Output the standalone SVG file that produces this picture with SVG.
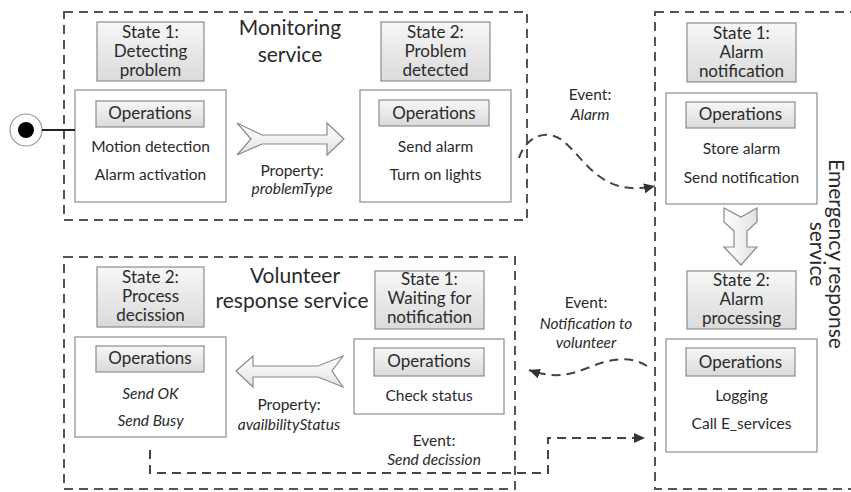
<svg xmlns="http://www.w3.org/2000/svg" width="851" height="492" viewBox="0 0 851 492">
  <defs>
    <linearGradient id="boxFill" x1="0" y1="0" x2="0" y2="1">
      <stop offset="0" stop-color="#f7f7f7"/>
      <stop offset="1" stop-color="#dadada"/>
    </linearGradient>
    <linearGradient id="arrowFill" x1="0" y1="0" x2="0" y2="1">
      <stop offset="0" stop-color="#ffffff"/>
      <stop offset="1" stop-color="#e2e2e2"/>
    </linearGradient>
    <linearGradient id="arrowFillH" x1="0" y1="0" x2="1" y2="0">
      <stop offset="0" stop-color="#ffffff"/>
      <stop offset="1" stop-color="#e2e2e2"/>
    </linearGradient>
    <marker id="head" markerUnits="userSpaceOnUse" markerWidth="13" markerHeight="11" refX="11" refY="5" orient="auto">
      <path d="M0,0 L11,5 L0,10 z" fill="#333"/>
    </marker>
  </defs>
  <style>
    text { font-family: Lato, "Open Sans", sans-serif; fill: #2a2a2a; text-anchor: middle; }
    .st { font-size: 17px; }
    .it { font-size: 15.5px; }
    .ev { font-size: 15.5px; }
    .em { font-style: italic; }
    .title { font-size: 21px; }
    .frame { fill: none; stroke: #555; stroke-width: 2; stroke-dasharray: 9 6; }
    .state { fill: url(#boxFill); stroke: #8c8c8c; stroke-width: 1.2; }
    .ops { fill: #fff; stroke: #8c8c8c; stroke-width: 1.2; }
    .lbl { fill: url(#boxFill); stroke: #8c8c8c; stroke-width: 1.2; }
    .conn { fill: none; stroke: #444; stroke-width: 2; stroke-dasharray: 9 6; }
    .block { stroke: #8a8a8a; stroke-width: 1.2; stroke-linejoin: miter; }
  </style>

  <!-- service frames -->
  <g id="monitoring-service">
    <rect class="frame" x="64" y="12" width="463" height="208"/>
    <text class="title" x="290" y="35">Monitoring</text>
    <text class="title" x="290" y="62">service</text>
  </g>
  <g id="emergency-response-service">
    <rect class="frame" x="655" y="12" width="230" height="477"/>
    <text class="title" transform="translate(829,254) rotate(90)">Emergency response</text>
    <text class="title" transform="translate(810,254) rotate(90)">service</text>
  </g>
  <g id="volunteer-response-service">
    <rect class="frame" x="64" y="257" width="451" height="232"/>
    <text class="title" x="295" y="283">Volunteer</text>
    <text class="title" x="292" y="308">response service</text>
  </g>

  <!-- initial pseudo-state -->
  <g id="start">
    <circle cx="26" cy="130" r="16" fill="#fff" stroke="#999" stroke-width="1.2"/>
    <circle cx="26" cy="130" r="8" fill="#000"/>
  </g>

  <!-- Monitoring service states -->
  <g id="m-detecting-problem">
    <rect class="state" x="97" y="22" width="107" height="59"/>
    <text class="st" x="150.5" y="37.5">State 1:</text>
    <text class="st" x="150.5" y="56.5">Detecting</text>
    <text class="st" x="150.5" y="75.5">problem</text>
    <rect class="ops" x="75" y="90" width="151" height="112"/>
    <rect class="lbl" x="96" y="101" width="108" height="26"/>
    <text class="st" x="150" y="119">Operations</text>
    <text class="it" x="150.5" y="152">Motion detection</text>
    <text class="it" x="150.5" y="180">Alarm activation</text>
  </g>
  <g id="m-problem-detected">
    <rect class="state" x="381" y="22" width="109" height="59"/>
    <text class="st" x="435.5" y="37.5">State 2:</text>
    <text class="st" x="435.5" y="56.5">Problem</text>
    <text class="st" x="435.5" y="75.5">detected</text>
    <rect class="ops" x="360" y="90" width="151" height="112"/>
    <rect class="lbl" x="379" y="100" width="110" height="26"/>
    <text class="st" x="434" y="118.5">Operations</text>
    <text class="it" x="435.5" y="152">Send alarm</text>
    <text class="it" x="435.5" y="180">Turn on lights</text>
  </g>

  <!-- Emergency response service states -->
  <g id="e-alarm-notification">
    <rect class="state" x="687" y="23" width="109" height="59"/>
    <text class="st" x="741.5" y="39">State 1:</text>
    <text class="st" x="741.5" y="58">Alarm</text>
    <text class="st" x="741.5" y="77">notification</text>
    <rect class="ops" x="666" y="93" width="151" height="111"/>
    <rect class="lbl" x="686" y="102" width="109" height="26"/>
    <text class="st" x="740.5" y="120">Operations</text>
    <text class="it" x="741.5" y="154">Store alarm</text>
    <text class="it" x="741.5" y="182.5">Send notification</text>
  </g>
  <g id="e-alarm-processing">
    <rect class="state" x="687" y="271" width="109" height="58"/>
    <text class="st" x="741.5" y="286">State 2:</text>
    <text class="st" x="741.5" y="305">Alarm</text>
    <text class="st" x="741.5" y="324">processing</text>
    <rect class="ops" x="666" y="339" width="151" height="113"/>
    <rect class="lbl" x="686" y="348" width="109" height="28"/>
    <text class="st" x="740.5" y="367.5">Operations</text>
    <text class="it" x="741.5" y="400.5">Logging</text>
    <text class="it" x="741.5" y="429">Call E_services</text>
  </g>

  <!-- Volunteer response service states -->
  <g id="v-waiting-for-notification">
    <rect class="state" x="375" y="271" width="109" height="58"/>
    <text class="st" x="429.5" y="285">State 1:</text>
    <text class="st" x="429.5" y="304">Waiting for</text>
    <text class="st" x="429.5" y="323">notification</text>
    <rect class="ops" x="354" y="339" width="150" height="75"/>
    <rect class="lbl" x="374" y="348" width="110" height="28"/>
    <text class="st" x="429" y="367">Operations</text>
    <text class="it" x="429" y="400.5">Check status</text>
  </g>
  <g id="v-process-decission">
    <rect class="state" x="97" y="267" width="107" height="60"/>
    <text class="st" x="150.5" y="283">State 2:</text>
    <text class="st" x="150.5" y="302">Process</text>
    <text class="st" x="150.5" y="321">decission</text>
    <rect class="ops" x="75" y="337" width="151" height="100"/>
    <rect class="lbl" x="96" y="346" width="108" height="26"/>
    <text class="st" x="150" y="363.5">Operations</text>
    <text class="it em" x="150.5" y="398.5">Send OK</text>
    <text class="it em" x="150.5" y="426">Send Busy</text>
  </g>

  <!-- transitions and events -->
  <g id="connectors">
    <line x1="42" y1="130" x2="75" y2="130" stroke="#222" stroke-width="2"/>

    <polygon class="block" fill="url(#arrowFill)" points="237,123 262,135 327,135 327,123 344,139 327,155 327,144 262,144 237,155 251,139"/>
    <text class="ev" x="292" y="176">Property:</text>
    <text class="ev em" x="292" y="194">problemType</text>

    <polygon class="block" fill="url(#arrowFillH)" points="724,208 741,217 757,208 757,222 747,231 747,247 757,247 741,265 724,247 734,247 734,231 724,222"/>

    <polygon class="block" fill="url(#arrowFill)" points="236,371 253,356 253,366 318,366 343,356 332,371 343,387 318,377 253,377 253,387"/>
    <text class="ev" x="289" y="410">Property:</text>
    <text class="ev em" x="289" y="430">availbilityStatus</text>

    <path class="conn" d="M519,158 C525,138 545,128 562,140 C585,158 600,198 655,186" marker-end="url(#head)"/>
    <text class="ev" x="590" y="100">Event:</text>
    <text class="ev em" x="590" y="120">Alarm</text>

    <path class="conn" d="M647,366 C630,355 610,359 590,367 C570,375 555,379 529,370" marker-end="url(#head)"/>
    <text class="ev" x="586" y="308">Event:</text>
    <text class="ev em" x="586" y="328.5">Notification to</text>
    <text class="ev em" x="586" y="348">volunteer</text>

    <path class="conn" d="M150,450 V473 H548 V438 H645" marker-end="url(#head)"/>
    <text class="ev" x="434" y="446">Event:</text>
    <text class="ev em" x="434" y="465">Send decission</text>
  </g>
</svg>
